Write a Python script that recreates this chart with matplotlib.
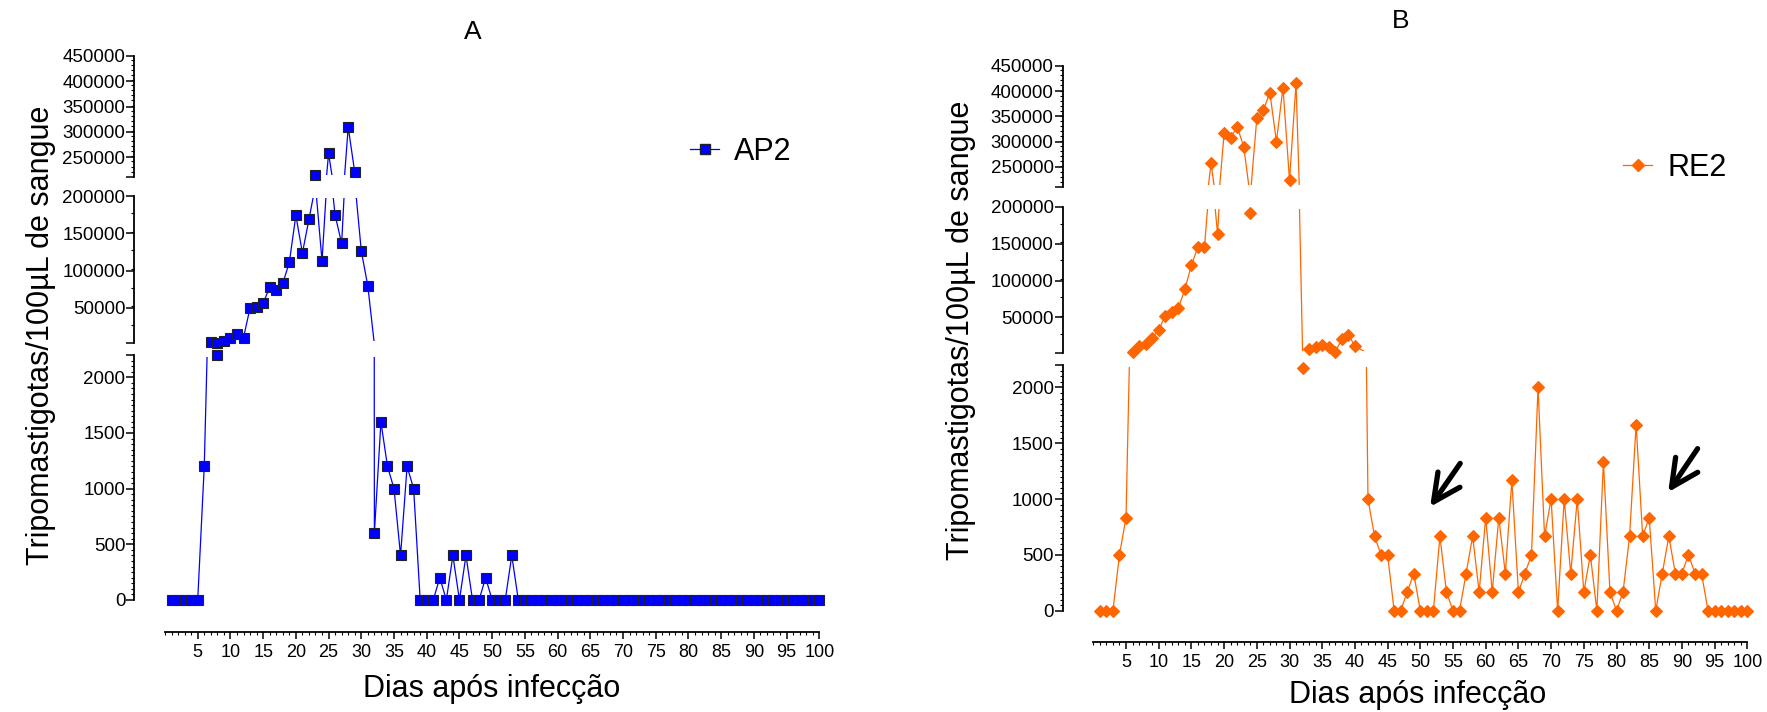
import matplotlib.pyplot as plt
from matplotlib.lines import Line2D
from matplotlib.patches import Rectangle

plt.rcParams['font.family'] = ['Liberation Sans', 'DejaVu Sans']

# dias 1..100
dias = list(range(1, 101))

# AP2 - parasitemia (tripomastigotas / 100 uL)
ap2 = [0, 0, 0, 0, 0, 1200, 3500, 2200, 5200, 8900,
       14200, 9700, 50000, 51000, 55800, 78300, 73800, 82800, 111100, 174400,
       123700, 169000, 214700, 112900, 257800, 174400, 136700, 309500, 220600, 126400,
       79200, 600, 1600, 1200, 1000, 400, 1200, 1000, 0, 0,
       0, 200, 0, 400, 0, 400, 0, 0, 200, 0,
       0, 0, 400] + [0] * 47

# RE2 (dia 41 nao aparece no grafico)
dias_re2 = [d for d in dias if d != 41]
re2 = [0, 0, 0, 500, 833, 3500, 10600, 14300, 21900, 33000,
       52300, 57700, 62600, 88100, 120800, 145400, 145400, 257200, 163300, 316400,
       307900, 329600, 290100, 191100, 346100, 362500, 396700, 300000, 406600, 224300,
       415100, 2170, 6600, 9800, 13300, 9800, 3000, 21000, 26800, 11200,
       1000, 667, 500, 500, 0, 0, 167, 333, 0,
       0, 0, 667, 167, 0, 0, 333, 667, 167, 833,
       167, 833, 333, 1167, 167, 333, 500, 2000, 667, 1000,
       0, 1000, 333, 1000, 167, 500, 0, 1333, 167, 0,
       167, 667, 1667, 667, 833, 0, 333, 667, 333, 333,
       500, 333, 333, 0, 0, 0, 0, 0, 0, 0]

W, H = 1767, 712
fig = plt.figure(figsize=(W / 100, H / 100), dpi=100)


def rect(x0, x1, ytop, ybot):
    return [x0 / W, 1 - ybot / H, (x1 - x0) / W, (ybot - ytop) / H]


def painel(x0, x1, segs, xoff, yoff, x, y, cor, marker, ms, mec):
    axes = []
    for i, (ytop, ybot, lo, hi, ticks, labels, minor) in enumerate(segs):
        ax = fig.add_axes(rect(x0, x1, ytop, ybot))
        linha, = ax.plot(x, y, color=cor, lw=0.9, zorder=2)
        # recorte um pouco para dentro, para nao vazar traco na borda do segmento
        inset = 2.0 / (ybot - ytop)
        clip = Rectangle((0, inset), 1, 1 - 2 * inset, transform=ax.transAxes)
        linha.set_clip_path(clip)
        xs = [a for a, b in zip(x, y) if lo <= b <= hi]
        ys = [b for b in y if lo <= b <= hi]
        ax.plot(xs, ys, ls='none', marker=marker, ms=ms, mfc=cor, mec=mec,
                mew=0.8, clip_on=False, zorder=3)
        ax.set_xlim(0, 100)
        ax.set_ylim(lo, hi)
        ax.set_yticks(ticks, labels)
        ax.set_yticks([v for v in range(int(lo), int(hi) + 1, minor)], minor=True)
        ax.tick_params(axis='y', which='major', length=5.5, width=1.1, labelsize=13.5, pad=1)
        ax.tick_params(axis='y', which='minor', length=2, width=0.8)
        for s in ['top', 'right']:
            ax.spines[s].set_visible(False)
        ax.spines['left'].set_position(('outward', xoff * 0.72))
        ax.spines['left'].set_linewidth(1.3)
        ax.patch.set_alpha(0)
        if i < len(segs) - 1:
            ax.spines['bottom'].set_visible(False)
            ax.set_xticks([])
        else:
            ax.spines['bottom'].set_position(('outward', yoff * 0.72))
            ax.spines['bottom'].set_linewidth(1.3)
            ax.set_xticks(range(5, 101, 5))
            ax.set_xticks(range(0, 101), minor=True)
            ax.tick_params(axis='x', which='major', length=5, width=1.1, labelsize=13, pad=4)
            ax.tick_params(axis='x', which='minor', length=2, width=0.8)
        axes.append(ax)
    return axes


def segs_padrao(t_top, t_mid, t_bot, lo_top):
    top = (t_top[0], t_top[1], lo_top, 450000,
           [lo_top] + list(range(250000, 450001, 50000)),
           [''] + [str(v) for v in range(250000, 450001, 50000)], 10000)
    mid = (t_mid[0], t_mid[1], 2200, 200000,
           [2200] + list(range(50000, 200001, 50000)),
           [''] + [str(v) for v in range(50000, 200001, 50000)], 25000)
    bot = (t_bot[0], t_bot[1], 0, 2200,
           list(range(0, 2001, 500)) + [2200],
           [str(v) for v in range(0, 2001, 500)] + [''], 50)
    return [top, mid, bot]


# Painel A
axA = painel(165, 819.3, segs_padrao((55.7, 176.7), (196.3, 343.3), (355, 600), 212000),
             30.7, 31.7, dias, ap2, '#0000FF', 's', 7.5, '#222222')
# Painel B
axB = painel(1093.3, 1747.3, segs_padrao((65.7, 186.7), (206.7, 352.7), (365, 610.7), 211000),
             30.6, 31, dias_re2, re2, '#FF6600', 'D', 5.8, '#FF6600')

ylab = 'Tripomastigotas/100µL de sangue'
xlab = 'Dias após infecção'
fig.text(41 / W, 1 - 335 / H, ylab, rotation=90, ha='center', va='center', fontsize=22)
fig.text(961 / W, 1 - 330 / H, ylab, rotation=90, ha='center', va='center', fontsize=22)
fig.text(492 / W, 1 - 689 / H, xlab, ha='center', va='center', fontsize=22)
fig.text(1418 / W, 1 - 695 / H, xlab, ha='center', va='center', fontsize=22)
fig.text(473 / W, 1 - 32 / H, 'A', ha='center', va='center', fontsize=19)
fig.text(1401 / W, 1 - 21 / H, 'B', ha='center', va='center', fontsize=19)

# legendas
hA = Line2D([], [], color='#0000FF', lw=0.9, marker='s', ms=7.5, mfc='#0000FF', mec='#222222')
hB = Line2D([], [], color='#FF6600', lw=0.9, marker='D', ms=5.8, mfc='#FF6600', mec='#FF6600')
axA[0].legend([hA], ['AP2'], loc='center left', bbox_to_anchor=(690 / W, 1 - 152 / H),
              bbox_transform=fig.transFigure, frameon=False, fontsize=22,
              handlelength=0.95, handletextpad=0.5, borderpad=0, borderaxespad=0)
axB[0].legend([hB], ['RE2'], loc='center left', bbox_to_anchor=(1623 / W, 1 - 168 / H),
              bbox_transform=fig.transFigure, frameon=False, fontsize=22,
              handlelength=0.95, handletextpad=0.5, borderpad=0, borderaxespad=0)

# setas no painel B
estilo = dict(arrowstyle='->,head_length=0.65,head_width=0.32', lw=3.8, color='black',
              mutation_scale=30, shrinkA=0, shrinkB=0)
axB[2].annotate('', xy=(51.5, 930), xytext=(56.1, 1319), arrowprops=estilo)
axB[2].annotate('', xy=(87.9, 1061), xytext=(92.4, 1451), arrowprops=estilo)

fig.savefig('out.png', dpi=100)
